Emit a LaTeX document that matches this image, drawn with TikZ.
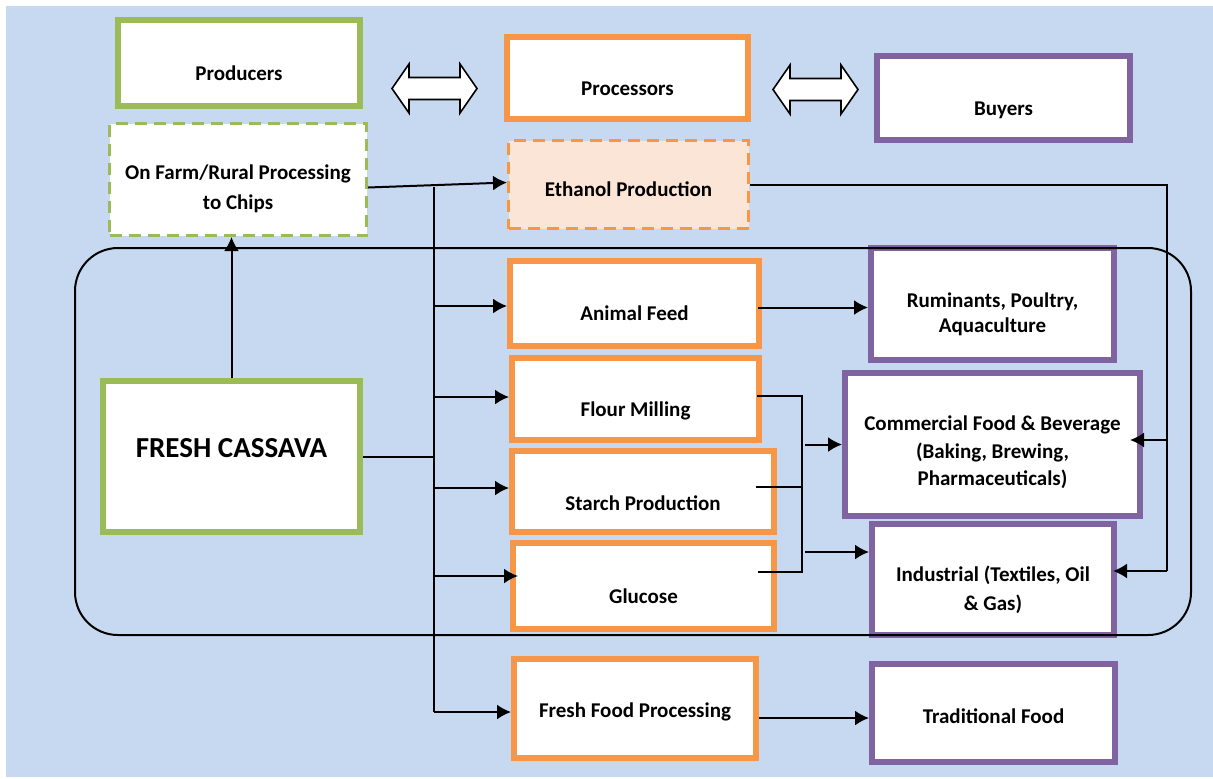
\documentclass[tikz,border=0pt]{standalone}
\usepackage{fontspec}
\setmainfont{Carlito}
\usepackage{tikz}
\usetikzlibrary{arrows.meta}

\definecolor{chainbg}{HTML}{C6D9F1}
\definecolor{prodgreen}{HTML}{9BBB59}
\definecolor{procorange}{HTML}{F79646}
\definecolor{buypurple}{HTML}{8064A2}
\definecolor{ethfill}{HTML}{FBE5D6}

\begin{document}
\begin{tikzpicture}[x=.5pt,y=-.5pt,
  box/.style={draw,line width=3pt,fill=white,align=center,inner sep=2pt,
    font=\fontsize{10.5}{14}\selectfont\bfseries},
  greenbox/.style={box,draw=prodgreen},
  orangebox/.style={box,draw=procorange},
  purplebox/.style={box,draw=buypurple},
  dashbox/.style={line width=1.5pt,dash pattern=on 6pt off 3.5pt},
  textdrop/.style={execute at begin node={\rule{0pt}{#1}}},
  textlift/.style={execute at begin node={\rule[\dimexpr-#1-#1\relax]{0pt}{\dimexpr#1+#1\relax}}},
  conn/.style={line width=1pt},
  arr/.style={conn,-{Latex[length=7pt,width=7.5pt]}},
  biarrow/.pic={\draw[line width=.8pt,fill=white] (-42.5,0) -- (-25.5,-24.5) -- (-25.5,-11)
    -- (25.5,-11) -- (25.5,-24.5) -- (42.5,0) -- (25.5,24.5) -- (25.5,11)
    -- (-25.5,11) -- (-25.5,24.5) -- cycle;}]

  \useasboundingbox (0,0) rectangle (1213,778);
  \fill[white] (0,0) rectangle (1213,778);
  \fill[chainbg] (6,6) rectangle (1213,777);

  % actors
  \node[greenbox,minimum width=121pt,minimum height=43pt,textdrop=17.5pt] (producers) at (239,63) {Producers};
  \node[orangebox,minimum width=120.5pt,minimum height=41pt,textdrop=17.5pt] (processors) at (627.5,78) {Processors};
  \node[purplebox,minimum width=126.5pt,minimum height=42pt,textdrop=19pt] (buyers) at (1003.5,98) {Buyers};
  \pic at (434.5,88.5) {biarrow};
  \pic at (815.5,89.5) {biarrow};

  % first stage
  \node[greenbox,dashbox,minimum width=128.5pt,minimum height=56pt,
    font=\fontsize{10.5}{15}\selectfont\bfseries,textdrop=31.5pt] (farm) at (238,179.5) {On Farm/Rural Processing\\to Chips};
  \node[orangebox,dashbox,fill=ethfill,minimum width=120pt,minimum height=44pt,textdrop=12pt] (ethanol) at (628.5,184.5) {Ethanol Production};
  \node[greenbox,minimum width=128.5pt,minimum height=75.5pt,font=\fontsize{14.5}{17}\selectfont\bfseries,textlift=4.25pt] (cassava) at (231.5,456.5) {FRESH CASSAVA};

  % processing
  \node[orangebox,minimum width=124.5pt,minimum height=42.5pt,textdrop=17pt] (feed) at (634.5,303.5) {Animal Feed};
  \node[orangebox,minimum width=123.5pt,minimum height=41pt,textdrop=19pt] (flour) at (635.5,399) {Flour Milling};
  \node[orangebox,minimum width=131pt,minimum height=40.5pt,textdrop=19pt] (starch) at (643,491.5) {Starch Production};
  \node[orangebox,minimum width=130.5pt,minimum height=43pt,textdrop=17.5pt] (glucose) at (643.5,586) {Glucose};
  \node[orangebox,minimum width=121pt,minimum height=49.5pt,textdrop=11pt] (fresh) at (635,708.5) {Fresh Food Processing};

  % markets
  \node[purplebox,minimum width=121.5pt,minimum height=56pt,
    font=\fontsize{10.5}{12.5}\selectfont\bfseries,textdrop=30.5pt] (rum) at (992.5,304) {Ruminants, Poultry,\\Aquaculture};
  \node[purplebox,minimum width=147.5pt,minimum height=71.5pt,
    font=\fontsize{10.5}{13.75}\selectfont\bfseries,textdrop=43pt] (comm) at (992.5,444.5) {Commercial Food \& Beverage\\(Baking, Brewing,\\Pharmaceuticals)};
  \node[purplebox,minimum width=121pt,minimum height=55.5pt,
    font=\fontsize{10.5}{14.5}\selectfont\bfseries,textdrop=33pt] (indus) at (993,579.5) {Industrial (Textiles, Oil\\\& Gas)};
  \node[purplebox,minimum width=121.5pt,minimum height=49pt,textdrop=10.5pt] (trad) at (993.5,713) {Traditional Food};

  \draw[line width=1pt,rounded corners=21.5pt] (75,248) rectangle (1191,635);

  % trunk out of the fresh roots
  \coordinate (trunktop) at (434,187);
  \coordinate (trunkbot) at (434,712);
  \draw[arr] (cassava.north) -- (cassava.north |- farm.south);
  \draw[arr] ([yshift=-4pt]farm.east) -- ([yshift=1pt]ethanol.west);
  \draw[conn] (cassava.east) -- (cassava.east -| trunktop);
  \draw[conn] (trunktop) -- (trunkbot);
  \foreach \n/\dy in {feed/-1.25pt,flour/1pt,starch/1.75pt}
    \draw[arr] ([yshift=\dy]\n.west -| trunktop) -- ([yshift=\dy]\n.west);
  \draw[arr] ([yshift=5pt]glucose.west -| trunktop) -- ([shift={(4pt,5pt)}]glucose.west);
  \draw[arr] (trunkbot) -- (trunkbot -| fresh.west);

  % to the buyers
  \draw[arr] ([shift={(-2pt,-2pt)}]feed.east) -- ([yshift=-2pt]feed.east -| rum.west);
  \draw[arr] ([yshift=-4.75pt]fresh.east) -- ([yshift=-4.75pt]fresh.east -| trad.west);

  \coordinate (mergetop) at (802,396);
  \coordinate (mergebot) at (802,572);
  \draw[conn] ([xshift=-2.5pt]flour.east |- mergetop) -- (mergetop) -- (mergebot)
    -- ([xshift=-9.5pt]glucose.east |- mergebot);
  \draw[conn] ([shift={(-10.5pt,2.25pt)}]starch.east) -- ([yshift=2.25pt]starch.east -| mergetop);
  \draw[arr] ([xshift=1.5pt]comm.west -| mergetop) -- (comm.west);
  \draw[arr] ([shift={(1.5pt,13.75pt)}]indus.west -| mergetop) -- ([yshift=13.75pt]indus.west);

  \coordinate (ethbus) at (1167,184);
  \draw[conn] (ethanol.east) -- (ethanol.east -| ethbus) -- ([yshift=4.25pt]ethbus |- indus.east);
  \draw[arr] ([yshift=4.25pt]ethbus |- indus.east) -- ([shift={(-2pt,4.25pt)}]indus.east);
  \draw[arr] ([yshift=2.25pt]ethbus |- comm.east) -- ([shift={(-6.5pt,2.25pt)}]comm.east);

\end{tikzpicture}
\end{document}
